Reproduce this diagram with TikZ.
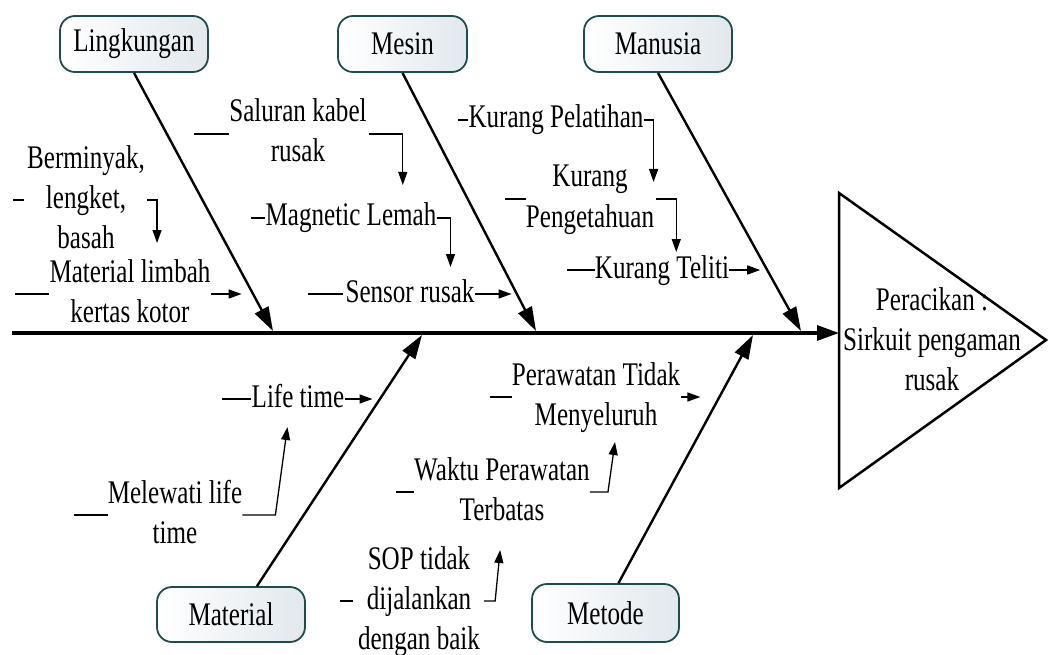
\documentclass[tikz,border=0pt]{standalone}
\usepackage{fontspec}
\setmainfont{Liberation Serif}[FakeStretch=0.76]
\usetikzlibrary{arrows.meta}
\definecolor{boxedge}{RGB}{30,78,76}
\definecolor{boxfill}{RGB}{226,232,237}
\newcommand{\lblfont}{\fontsize{33}{40}\selectfont}
\tikzset{
  catbox/.style={draw=boxedge, line width=1.8pt, rounded corners=15pt, left color=white, right color=boxfill, minimum height=56pt, inner sep=0pt, font=\lblfont},
  lbl/.style={align=center, inner sep=0pt, font=\lblfont},
  spine/.style={line width=3.2pt, -{Triangle[length=22pt,width=15pt]}},
  bone/.style={line width=2.4pt, -{Triangle[length=24pt,width=15pt]}},
  sub/.style={line width=1.3pt, -{Triangle[length=13pt,width=9pt]}},
  tick/.style={line width=1.3pt},
  headtri/.style={line width=2.5pt, line join=miter},
}
\begin{document}
\begin{tikzpicture}[x=1pt,y=-1pt]
\useasboundingbox (0,0) rectangle (1049,655);

% head (effect)
\draw[headtri] (839,193) -- (1046,340) -- (839,488) -- cycle;
\node[lbl] (eff) at (932,342) {Peracikan :\strut\\Sirkuit pengaman\strut\\rusak\strut};

% spine
\coordinate (tail) at (12,333);
\coordinate (head) at (839,333);
\draw[spine] (tail) -- (head);

% categories
\node[catbox, minimum width=148pt] (ling) at (134,44) {Lingkungan};
\node[catbox, minimum width=129pt] (mesin) at (402.5,44) {Mesin};
\node[catbox, minimum width=148pt] (manusia) at (658,44) {Manusia};
\node[catbox, minimum width=148pt, minimum height=55pt] (material) at (231,614.5) {Material};
\node[catbox, minimum width=147pt, minimum height=58pt] (metode) at (605.5,613) {Metode};

% bone ends on spine
\coordinate (b1) at (273,331);
\coordinate (b2) at (536,331);
\coordinate (b3) at (801,331);
\coordinate (b4) at (422,335);
\coordinate (b5) at (753,335);

\draw[bone] (ling.south) -- (b1);
\draw[bone] (mesin.south) -- (b2);
\draw[bone] (manusia.south) -- (b3);
\draw[bone] ([xshift=26pt]material.north) -- (b4);
\draw[bone] ([xshift=13pt]metode.north) -- (b5);

% sub causes
\node[lbl] (berminyak) at (86,200) {Berminyak,\strut\\lengket,\strut\\basah\strut};
\node[lbl] (limbah) at (130,294) {Material limbah\strut\\kertas kotor\strut};
\node[lbl] (saluran) at (298,134) {Saluran kabel\strut\\rusak\strut};
\node[lbl] (magnetic) at (351,218) {Magnetic Lemah\strut};
\node[lbl] (sensor) at (410,294) {Sensor rusak\strut};
\node[lbl] (pelatihan) at (556,120) {Kurang Pelatihan\strut};
\node[lbl] (pengetahuan) at (590,199) {Kurang\strut\\Pengetahuan\strut};
\node[lbl] (teliti) at (662,270) {Kurang Teliti\strut};
\node[lbl] (lifetime) at (298,399) {Life time\strut};
\node[lbl] (melewati) at (175,515) {Melewati life\strut\\time\strut};
\node[lbl] (perawatan) at (596,397) {Perawatan Tidak\strut\\Menyeluruh\strut};
\node[lbl] (waktu) at (502,492) {Waktu Perawatan\strut\\Terbatas\strut};
\node[lbl] (sop) at (419,601) {SOP tidak\strut\\dijalankan\strut\\dengan baik\strut};

% left ticks
\draw[tick] ([xshift=-3pt]berminyak.west) -- ++(-11,0);
\draw[tick] (limbah.west) -- ++(-34,0);
\draw[tick] (saluran.west) -- ++(-35,0);
\draw[tick] (magnetic.west) -- ++(-14,0);
\draw[tick] ([xshift=-2pt]sensor.west) -- ++(-35,0);
\draw[tick] (pelatihan.west) -- ++(-10,0);
\draw[tick] (pengetahuan.west) -- ++(-21,0);
\draw[tick] (teliti.west) -- ++(-28,0);
\draw[tick] (lifetime.west) -- ++(-29,0);
\draw[tick] (melewati.west) -- ++(-34,0);
\draw[tick] (perawatan.west) -- ++(-22,0);
\draw[tick] (waktu.west) -- ++(-18,0);
\draw[tick] ([xshift=-5pt]sop.west) -- ++(-13,0);

% arrows
\draw[sub] ([xshift=2pt]berminyak.east) -- ++(10,0) -- ++(0,43);
\draw[sub] (limbah.east) -- ++(31,0);
\draw[sub] ([xshift=2pt]saluran.east) -- ++(34,0) -- ++(0,51);
\draw[sub] (magnetic.east) -- ++(14,0) -- ++(0,49);
\draw[sub] (sensor.east) -- ++(37,0);
\draw[sub] (pelatihan.east) -- ++(10,0) -- ++(0,62);
\draw[sub] ([xshift=2pt]pengetahuan.east) -- ++(20,0) -- ++(0,53);
\draw[sub] (teliti.east) -- ++(31,0);
\draw[sub] (lifetime.east) -- ++(28,0);
\draw[sub] (melewati.east) -- ++(33,0) -- ++(12,-88);
\draw[sub] ([xshift=1pt]perawatan.east) -- ++(19,0);
\draw[sub] (waktu.east) -- ++(18,0) -- ++(7,-50);
\draw[sub] ([xshift=4pt]sop.east) -- ++(11,0) -- ++(5,-51);
\end{tikzpicture}
\end{document}
